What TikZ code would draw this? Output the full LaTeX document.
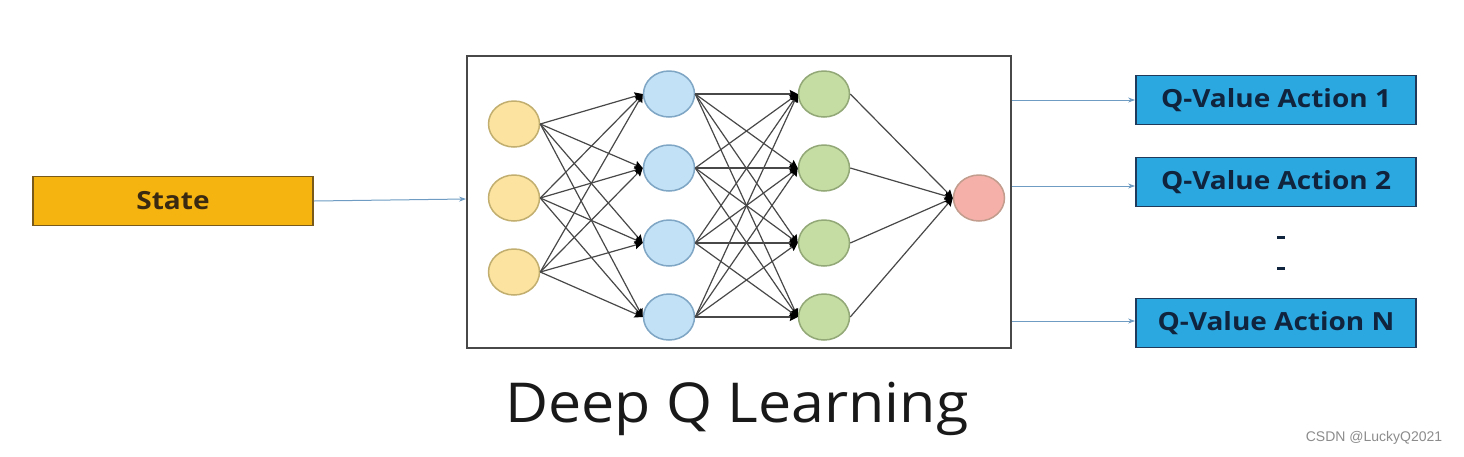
\documentclass[tikz,border=0pt]{standalone}
\usepackage{fontspec}
\setmainfont{Open Sans}
\newfontfamily\wmfont{Liberation Sans}
\usetikzlibrary{shapes.geometric,arrows.meta}
\definecolor{yfill}{HTML}{FCE4A0}
\definecolor{ydraw}{HTML}{C2AF70}
\definecolor{bfill}{HTML}{C2E1F6}
\definecolor{bdraw}{HTML}{7FA6C4}
\definecolor{gfill}{HTML}{C5DCA3}
\definecolor{gdraw}{HTML}{93A877}
\definecolor{rfill}{HTML}{F5B0AA}
\definecolor{rdraw}{HTML}{C29C8C}
\definecolor{netline}{HTML}{484848}
\definecolor{statefill}{HTML}{F6B410}
\definecolor{statedraw}{HTML}{7A5A1A}
\definecolor{statetext}{HTML}{3A2A12}
\definecolor{qfill}{HTML}{2CA8E0}
\definecolor{qdraw}{HTML}{1F3A5A}
\definecolor{qtext}{HTML}{10243E}
\definecolor{linkline}{HTML}{6E9CC2}
\tikzset{
  neuron/.style={ellipse, minimum width=51pt, minimum height=46pt, inner sep=0pt, line width=1.5pt},
  yneuron/.style={neuron, fill=yfill, draw=ydraw},
  bneuron/.style={neuron, fill=bfill, draw=bdraw},
  gneuron/.style={neuron, fill=gfill, draw=gdraw},
  rneuron/.style={neuron, fill=rfill, draw=rdraw},
  wire/.style={draw=netline, line width=1.2pt, -{Stealth[length=8pt,width=8pt,inset=1pt,color=black]}},
  labelfont/.style={font=\fontsize{25}{28}\selectfont\bfseries},
  boxtext/.style={rectangle, line width=1.8pt, minimum width=280pt, minimum height=49pt, inner sep=0pt, labelfont},
  qbox/.style={boxtext, draw=qdraw, fill=qfill, text=qtext},
  statebox/.style={boxtext, draw=statedraw, fill=statefill, text=statetext},
  link/.style={draw=linkline, line width=1pt, -{Stealth[length=7pt,width=5pt]}},
}
\newcommand{\wide}[1]{\scalebox{1.12}[1]{#1}}
\begin{document}
\begin{tikzpicture}[x=1pt,y=-1pt]
\useasboundingbox (0,0) rectangle (1464,456);
\fill[white] (0,0) rectangle (1464,456);
% main box
\node[draw=netline, line width=2pt, minimum width=544pt, minimum height=292pt, inner sep=0pt] (net) at (739,202) {};
% neurons
\node[yneuron] (y1) at (514,124) {};
\node[yneuron] (y2) at (514,198) {};
\node[yneuron] (y3) at (514,272) {};
\node[bneuron] (b1) at (669,94) {};
\node[bneuron] (b2) at (669,168) {};
\node[bneuron] (b3) at (669,243) {};
\node[bneuron] (b4) at (669,317) {};
\node[gneuron] (g1) at (824,94) {};
\node[gneuron] (g2) at (824,168) {};
\node[gneuron] (g3) at (824,243) {};
\node[gneuron] (g4) at (824,317) {};
\node[rneuron] (r1) at (979,198) {};
\foreach \s in {1,2,3}{\foreach \t in {1,2,3,4}{\draw[wire] (y\s.east) -- (b\t.west);}}
\foreach \s in {1,2,3,4}{\foreach \t in {1,2,3,4}{\draw[wire] (b\s.east) -- (g\t.west);}}
\foreach \s in {1,2,3,4}{\draw[wire] (g\s.east) -- (r1.west);}
% state
\node[statebox] (state) at (173,201) {\wide{State}};
\draw[link] (state.east) -- (net.west |- 0,199);
% Q boxes
\node[qbox] (q1) at (1276,100) {\wide{Q-Value Action 1}};
\node[qbox] (q2) at (1276,182) {\wide{Q-Value Action 2}};
\node[qbox] (qn) at (1276,323) {\wide{Q-Value Action N}};
\coordinate (o1) at (net.east |- q1);
\coordinate (o2) at (net.east |- 0,186);
\coordinate (on) at (net.east |- 0,321);
\draw[link] (o1) -- (q1.west);
\draw[link] (o2) -- (q2.west |- o2);
\draw[link] (on) -- (qn.west |- on);
\fill[qtext] (1277,235.5) rectangle (1285,239) coordinate (d1);
\fill[qtext] (1277,266.5) rectangle (1285,270) coordinate (d2);
% title
\node[font=\fontsize{55}{60}\selectfont, text=black!90] (title) at (737,409) {\scalebox{1.075}[1]{Deep Q Learning}};
% watermark
\node[font=\wmfont\fontsize{14}{16}\selectfont, text=black!45] (wm) at (1374,438) {CSDN @LuckyQ2021};
\end{tikzpicture}
\end{document}
